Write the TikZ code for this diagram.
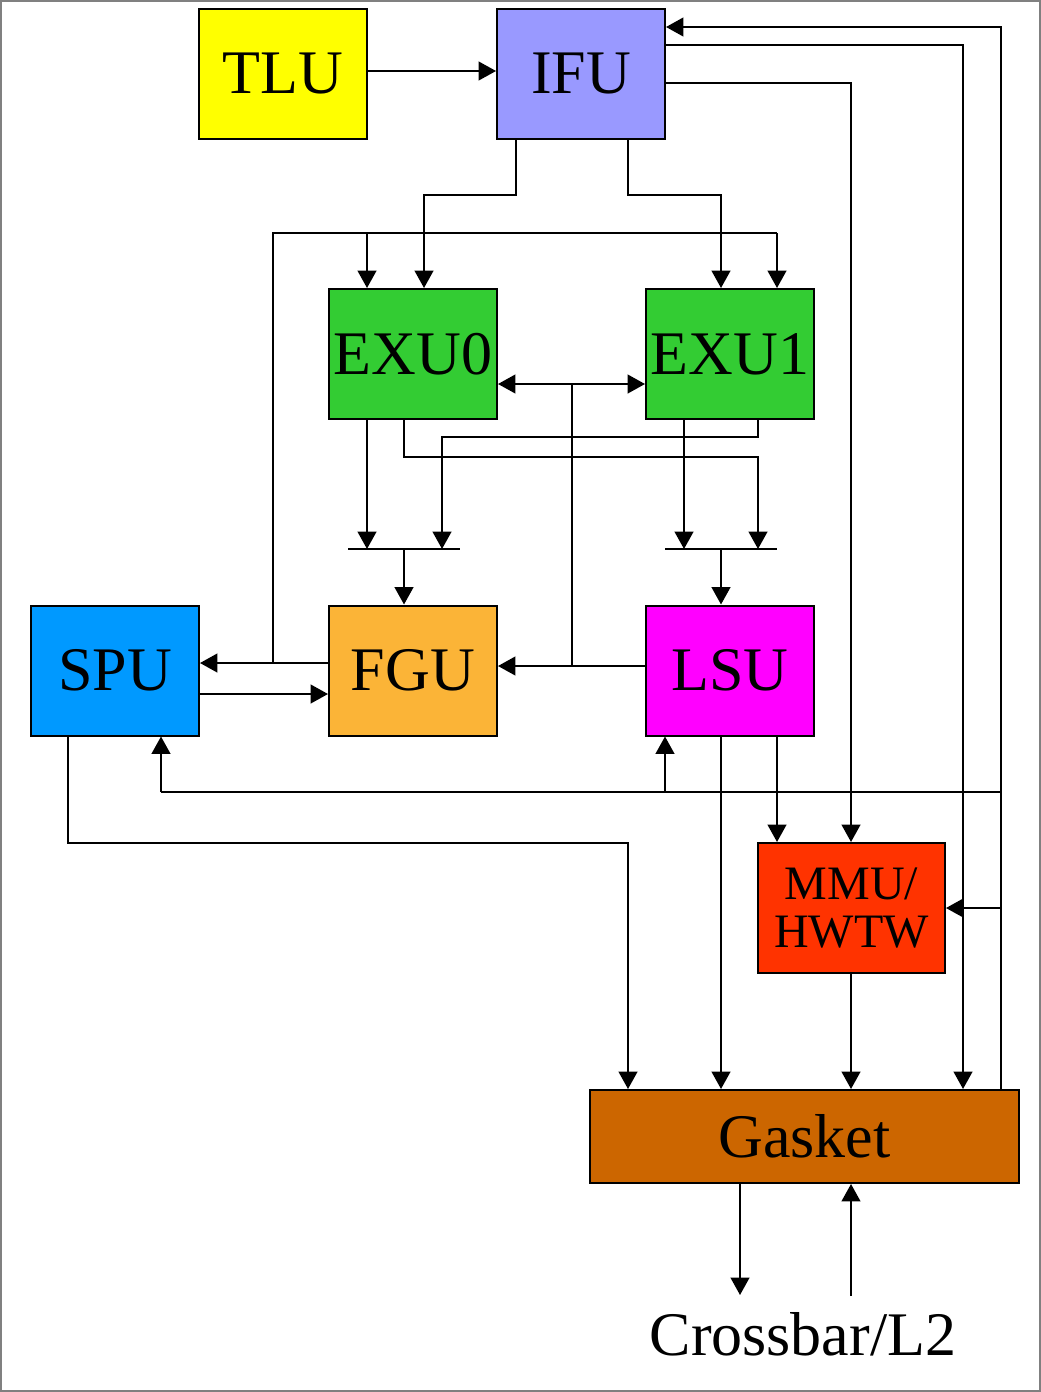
\documentclass[tikz,border=0pt]{standalone}
\usepackage{fontspec}
\setmainfont{Liberation Serif}
\usetikzlibrary{arrows.meta}
\definecolor{cTLU}{HTML}{FFFF00}
\definecolor{cIFU}{HTML}{9999FF}
\definecolor{cEXU}{HTML}{33CC33}
\definecolor{cSPU}{HTML}{0099FF}
\definecolor{cFGU}{HTML}{FBB437}
\definecolor{cLSU}{HTML}{FF00FF}
\definecolor{cMMU}{HTML}{FF3300}
\definecolor{cGSK}{HTML}{CC6600}
\begin{document}
\begin{tikzpicture}[x=0.75pt,y=-0.75pt,
  blk/.style={draw=black, line width=1.5pt, rectangle, inner sep=0pt,
    minimum width=126pt, minimum height=97.5pt, font=\fontsize{46.5}{50}\selectfont},
  wire/.style={line width=1.5pt},
  conn/.style={line width=1.5pt, -{Triangle[length=13pt,width=14pt]}},
  dconn/.style={line width=1.5pt, {Triangle[length=13pt,width=14pt]}-{Triangle[length=13pt,width=14pt]}},
  lbl/.style={font=\fontsize{46.5}{50}\selectfont, inner sep=0pt}]
\useasboundingbox (0,0) rectangle (1041,1392);
\draw[gray, line width=1.2pt] (1,1) rectangle (1040,1391);

% blocks
\node[blk, fill=cTLU] (tlu) at (283,74) {TLU};
\node[blk, fill=cIFU] (ifu) at (581,74) {IFU};
\node[blk, fill=cEXU] (exu0) at (413,354) {EXU0};
\node[blk, fill=cEXU] (exu1) at (730,354) {EXU1};
\node[blk, fill=cSPU] (spu) at (115,670.5) {SPU};
\node[blk, fill=cFGU] (fgu) at (413,670.5) {FGU};
\node[blk, fill=cLSU] (lsu) at (730,670.5) {LSU};
\node[blk, fill=cMMU, minimum width=140.25pt, align=center,
  font=\fontsize{36}{35.5}\selectfont] (mmu) at (851.5,908) {MMU/\\HWTW};
\node[blk, fill=cGSK, minimum width=321.75pt, minimum height=69.75pt] (gasket) at (804.5,1136.5) {Gasket};
\node[lbl, anchor=base] (xbar) at (803,1355) {Crossbar/L2};

% TLU -> IFU
\draw[conn] (tlu.east |- 0,71) -- (ifu.west |- 0,71);

% Gasket -> IFU feedback, with branches
\coordinate (fb1) at (1001,792);
\coordinate (fb2) at (1001,908);
\draw[conn] (1001,0 |- gasket.north) -- (1001,27) -- (ifu.east |- 0,27);
\draw[wire] (fb1) -- (161,792);
\draw[conn] (161,792) -- (161,0 |- spu.south);
\draw[conn] (665,792) -- (665,0 |- lsu.south);
\draw[conn] (fb2) -- (mmu.east);

% IFU -> Gasket, IFU -> MMU
\draw[conn] (ifu.east |- 0,45) -- (963,45) -- (963,0 |- gasket.north);
\draw[conn] (ifu.east |- 0,83) -- (851,83) -- (851,0 |- mmu.north);

% IFU -> EXU0 / EXU1
\draw[conn] (516,0 |- ifu.south) -- (516,195) -- (424,195) -- (424,0 |- exu0.north);
\draw[conn] (628,0 |- ifu.south) -- (628,195) -- (721,195) -- (721,0 |- exu1.north);

% FGU -> SPU, with branch up to EXUs
\coordinate (fg1) at (273,663);
\draw[conn] (fgu.west |- 0,663) -- (spu.east |- 0,663);
\draw[wire] (fg1) -- (273,233) -- (777,233);
\draw[conn] (777,233) -- (777,0 |- exu1.north);
\draw[conn] (367,233) -- (367,0 |- exu0.north);

% SPU -> FGU
\draw[conn] (spu.east |- 0,694) -- (fgu.west |- 0,694);

% LSU -> FGU, with branch up to EXU0/EXU1
\coordinate (ls1) at (572,666);
\coordinate (ls2) at (572,384);
\draw[conn] (lsu.west |- 0,666) -- (fgu.east |- 0,666);
\draw[wire] (ls1) -- (ls2);
\draw[dconn] (exu0.east |- 0,384) -- (exu1.west |- 0,384);

% EXU outputs to bars
\coordinate (barL) at (404,549);
\coordinate (barR) at (721,549);
\draw[wire] (348,549) -- (460,549);
\draw[wire] (665,549) -- (777,549);
\draw[conn] (367,0 |- exu0.south) -- (367,549);
\draw[conn] (758,0 |- exu1.south) -- (758,437) -- (442,437) -- (442,549);
\draw[conn] (404,0 |- exu0.south) -- (404,457) -- (758,457) -- (758,549);
\draw[conn] (684,0 |- exu1.south) -- (684,549);
\draw[conn] (barL) -- (404,0 |- fgu.north);
\draw[conn] (barR) -- (721,0 |- lsu.north);

% LSU -> Gasket, LSU -> MMU
\draw[conn] (721,0 |- lsu.south) -- (721,0 |- gasket.north);
\draw[conn] (777,0 |- lsu.south) -- (777,0 |- mmu.north);

% MMU -> Gasket
\draw[conn] (851,0 |- mmu.south) -- (851,0 |- gasket.north);

% SPU -> Gasket
\draw[conn] (68,0 |- spu.south) -- (68,843) -- (628,843) -- (628,0 |- gasket.north);

% Gasket <-> Crossbar/L2
\coordinate (xout) at (740,1295);
\coordinate (xin) at (851,1296);
\draw[conn] (740,0 |- gasket.south) -- (xout);
\draw[conn] (xin) -- (851,0 |- gasket.south);
\end{tikzpicture}
\end{document}
